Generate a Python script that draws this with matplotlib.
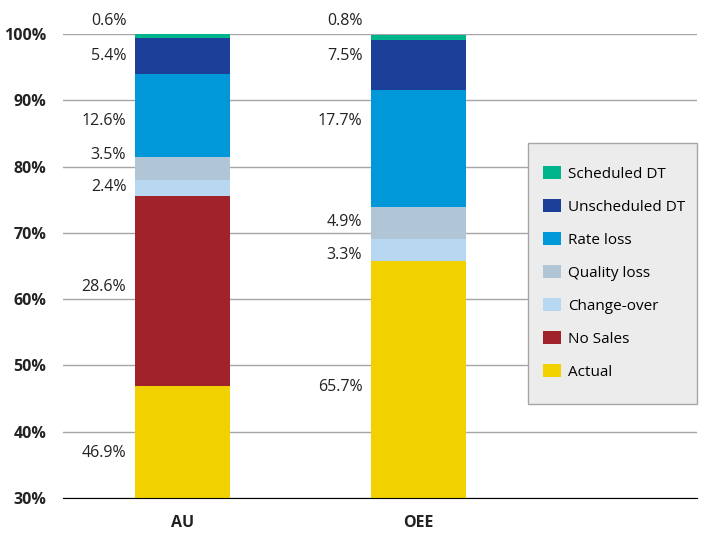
import matplotlib.pyplot as plt
from matplotlib.patches import Rectangle

categories = ["AU", "OEE"]
series = ["Actual", "No Sales", "Change-over", "Quality loss",
          "Rate loss", "Unscheduled DT", "Scheduled DT"]
values = {
    "Actual": [46.9, 65.7],
    "No Sales": [28.6, 0.0],
    "Change-over": [2.4, 3.3],
    "Quality loss": [3.5, 4.9],
    "Rate loss": [12.6, 17.7],
    "Unscheduled DT": [5.4, 7.5],
    "Scheduled DT": [0.6, 0.8],
}
colors = {
    "Actual": "#f2d100",
    "No Sales": "#a0232c",
    "Change-over": "#b8d8f1",
    "Quality loss": "#b0c5d5",
    "Rate loss": "#0098d8",
    "Unscheduled DT": "#1c4099",
    "Scheduled DT": "#00b48c",
}
# where the value labels sit (label layout, % units)
label_y = {
    "Actual": [36.8, 46.7],
    "No Sales": [61.8, None],
    "Change-over": [76.9, 66.6],
    "Quality loss": [81.7, 71.6],
    "Rate loss": [86.8, 86.9],
    "Unscheduled DT": [96.7, 96.7],
    "Scheduled DT": [102.0, 102.0],
}

plt.rcParams['font.family'] = ['Open Sans', 'DejaVu Sans']

fig = plt.figure(figsize=(7.11, 5.37), dpi=100)
ax = fig.add_axes([63 / 711, 39 / 537, 634 / 711, 464 / 537])
ax.set_axisbelow(True)

x = list(range(len(categories)))
width = 0.40
bottom = [0.0] * len(categories)
handles = {}
for s in series:
    bars = ax.bar(x, values[s], width, bottom=bottom, color=colors[s],
                  label=s, zorder=3)
    handles[s] = bars
    for i, v in enumerate(values[s]):
        if label_y[s][i] is None:
            continue
        ax.text(x[i] - width / 2 - 0.038, label_y[s][i], f"{v:.1f}%",
                ha="right", va="center", fontsize=11.5, color="#222222",
                clip_on=False)
    bottom = [b + v for b, v in zip(bottom, values[s])]

ax.set_ylim(30, 100)
ax.set_xlim(-0.506, 2.18)
ax.set_yticks(range(30, 101, 10))
ax.set_yticklabels([f"{t}%" for t in range(30, 101, 10)],
                   fontweight="bold", fontsize=11.5, color="#222222")
ax.set_xticks(x)
ax.set_xticklabels(categories, fontweight="bold", fontsize=11.5,
                   color="#222222")
ax.tick_params(axis="y", length=0, pad=12)
ax.tick_params(axis="x", length=0, pad=12)
ax.yaxis.grid(True, color="#a6a6a6", linewidth=1)
for sp in ["top", "right", "left"]:
    ax.spines[sp].set_visible(False)
ax.spines["bottom"].set_color("black")
ax.spines["bottom"].set_zorder(4)

# legend box
box = Rectangle((465 / 634, 94 / 464), 169 / 634, 261 / 464,
                transform=ax.transAxes, facecolor="#ececec",
                edgecolor="#a6a6a6", linewidth=1, zorder=5, clip_on=False)
ax.add_patch(box)

order = series[::-1]
leg = ax.legend([handles[s] for s in order], order, loc="upper left",
                bbox_to_anchor=(480 / 634, 0.7154), borderaxespad=0,
                fontsize=11, frameon=False, borderpad=0,
                handlelength=1.18, handleheight=0.92, handletextpad=0.46,
                labelspacing=1.13)
leg.set_zorder(6)

fig.savefig("out.png", dpi=100)
